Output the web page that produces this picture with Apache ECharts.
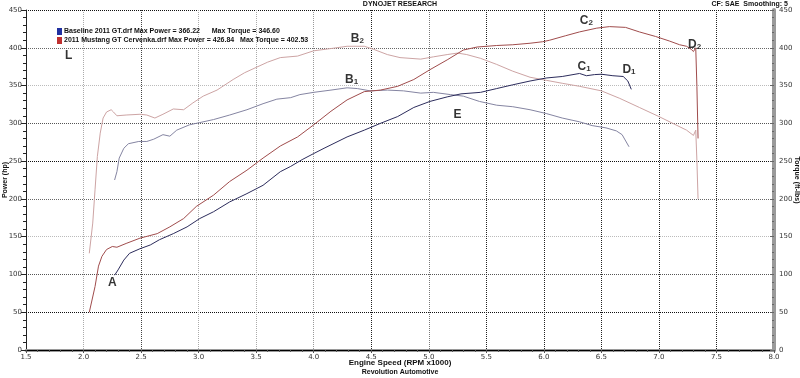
<!DOCTYPE html>
<html>
<head>
<meta charset="utf-8">
<script src="https://cdn.jsdelivr.net/npm/echarts@6/dist/echarts.min.js"></script>
<style>
  html, body { margin: 0; padding: 0; background: #fff; }
  #main { width: 800px; height: 378px; }
</style>
</head>
<body>
<div id="main"></div>
<script>
// [rpm x1000, value]
var modPower = [[2.05,50],[2.10,84],[2.13,111],[2.16,124],[2.20,133],[2.25,137],[2.29,136],[2.37,141],[2.49,148],[2.64,154],[2.75,163],[2.87,174],[2.98,190],[3.13,205],[3.27,223],[3.42,238],[3.56,254],[3.71,270],[3.86,282],[4.0,298],[4.15,316],[4.29,331],[4.44,342],[4.58,344],[4.73,349],[4.87,358],[5.01,371],[5.16,384],[5.30,397],[5.42,401],[5.59,403],[5.73,404],[5.88,406],[5.99,408],[6.05,410],[6.19,416],[6.31,421],[6.46,426],[6.57,428],[6.71,427],[6.83,421],[6.97,415],[7.09,409],[7.18,404],[7.24,402],[7.28,398],[7.30,395],[7.32,400],[7.33,349],[7.34,280]]
var modTorque = [[2.05,128],[2.08,168],[2.10,212],[2.12,256],[2.145,287],[2.17,307],[2.20,315],[2.24,318],[2.26,315],[2.29,310],[2.37,311],[2.49,312],[2.55,311],[2.62,307],[2.69,312],[2.78,319],[2.87,318],[2.95,327],[3.04,336],[3.16,344],[3.3,358],[3.4,367],[3.5,374],[3.6,381],[3.71,387],[3.86,389],[4.0,396],[4.15,399],[4.29,402],[4.44,402],[4.52,398],[4.64,391],[4.75,387],[4.93,385],[5.04,388],[5.16,391],[5.25,393],[5.33,391],[5.45,386],[5.59,378],[5.73,369],[5.88,361],[6.02,357],[6.16,353],[6.31,349],[6.50,343],[6.66,333],[6.83,321],[7.0,309],[7.12,300],[7.24,291],[7.30,284],[7.32,291],[7.33,251],[7.34,200]]
var basePower = [[2.27,99],[2.30,106],[2.35,119],[2.40,128],[2.49,134],[2.58,139],[2.66,146],[2.78,154],[2.90,163],[3.01,174],[3.13,183],[3.27,196],[3.42,207],[3.56,218],[3.71,236],[3.8,243],[3.9,252],[4.0,260],[4.09,267],[4.29,282],[4.44,291],[4.58,300],[4.73,309],[4.87,321],[5.01,329],[5.16,335],[5.28,339],[5.45,341],[5.59,346],[5.73,351],[5.88,356],[6.02,360],[6.16,362],[6.31,366],[6.37,363],[6.44,364.5],[6.50,365],[6.60,363],[6.69,362],[6.73,356],[6.76,345]]
var baseTorque = [[2.27,225],[2.29,236],[2.31,254],[2.35,267],[2.39,273],[2.48,276],[2.55,276],[2.61,279],[2.69,285],[2.75,283],[2.81,291],[2.92,298],[3.01,301],[3.13,305],[3.27,311],[3.42,318],[3.56,326],[3.68,332],[3.80,334],[3.88,338],[4.0,341],[4.15,344],[4.29,347],[4.38,346],[4.49,343],[4.64,344],[4.78,343],[4.93,340],[5.04,341],[5.19,338],[5.30,336],[5.44,329],[5.59,324],[5.73,322],[5.88,318],[6.02,313],[6.16,307],[6.31,302],[6.42,297],[6.54,294],[6.63,290],[6.68,285],[6.74,269]]

// annotation letters: [rpm, value, letter, subscript]
var marks = [[2.25,89,'A',''],[1.87,390,'L',''],[4.38,412,'B','2'],[4.33,358,'B','1'],[5.25,312,'E',''],[6.37,436,'C','2'],[6.35,375,'C','1'],[6.74,371,'D','1'],[7.31,404,'D','2']]

var baseName = 'Baseline 2011 GT.drf Max Power = 366.22      Max Torque = 346.60'
var modName = '2011 Mustang GT Cervenka.drf Max Power = 426.84   Max Torque = 402.53'

// grid line colours per x tick (1.5 .. 8.0)
var xSplitColors = ['#999','#aaa','#444','#aaa','#aaa','#999','#222','#777','#222','#222','#222','#222','#222','#222']

var chart = echarts.init(document.getElementById('main'))
var txt = { fontFamily: 'Liberation Sans', fontWeight: 'bold', color: '#111' }

chart.setOption({
  animation: false,
  backgroundColor: '#fff',
  title: [
    { text: 'DYNOJET RESEARCH', left: 'center', top: 1, padding: 0, textStyle: Object.assign({ fontSize: 7 }, txt) },
    { text: 'CF: SAE  Smoothing: 5', right: 12, top: 1, padding: 0, textStyle: Object.assign({ fontSize: 7 }, txt) },
    { text: 'Revolution Automotive', left: 'center', top: 369, padding: 0, textStyle: Object.assign({ fontSize: 7 }, txt) }
  ],
  legend: {
    orient: 'vertical',
    left: 57,
    top: 28,
    padding: 0,
    itemGap: 2,
    itemWidth: 5,
    itemHeight: 7,
    icon: 'rect',
    textStyle: Object.assign({ fontSize: 7, padding: [0, 0, 0, -3] }, txt),
    data: [
      { name: baseName, itemStyle: { color: '#2030a0' } },
      { name: modName, itemStyle: { color: '#c03030' } }
    ]
  },
  grid: { left: 26, right: 26, top: 10, bottom: 28, containLabel: false, outerBoundsMode: 'none' },
  xAxis: [
    {
      type: 'value',
      min: 1.5,
      max: 8.0,
      interval: 0.5,
      name: 'Engine Speed (RPM x1000)',
      nameLocation: 'middle',
      nameGap: 9,
      nameMoveOverlap: false,
      nameTextStyle: Object.assign({ fontSize: 8 }, txt),
      axisLine: { onZero: false, lineStyle: { color: '#9a9a9a', width: 3 } },
      axisTick: { show: true, length: 3, lineStyle: { color: '#555' } },
      minorTick: { show: true, splitNumber: 5, length: 2, lineStyle: { color: '#555' } },
      axisLabel: { margin: 4, fontSize: 7, fontFamily: 'DejaVu Sans', color: '#333', formatter: function (v) { return v.toFixed(1) } },
      splitLine: { show: true, lineStyle: { type: 'dotted', color: xSplitColors, width: 1 } }
    },
    {
      type: 'value',
      position: 'top',
      min: 1.5,
      max: 8.0,
      axisLine: { show: true, lineStyle: { color: '#000', width: 1 } },
      axisTick: { show: false },
      axisLabel: { show: false },
      splitLine: { show: false }
    }
  ],
  yAxis: [
    {
      type: 'value',
      min: 0,
      max: 450,
      interval: 50,
      name: 'Power (hp)',
      nameLocation: 'middle',
      nameGap: 17,
      nameMoveOverlap: false,
      nameTextStyle: Object.assign({ fontSize: 7 }, txt),
      axisLine: { show: true, lineStyle: { color: '#222', width: 1 } },
      axisTick: { show: true, length: 5, lineStyle: { color: '#222' } },
      minorTick: { show: true, splitNumber: 5, length: 3, lineStyle: { color: '#222' } },
      axisLabel: { margin: 4, fontSize: 7, fontFamily: 'DejaVu Sans', color: '#333' },
      splitLine: { show: true, lineStyle: { type: 'dotted', color: ['#666', '#111', '#555', '#bbb'], width: 1 } }
    },
    {
      type: 'value',
      min: 0,
      max: 450,
      interval: 50,
      position: 'right',
      name: 'Torque (ft-lbs)',
      nameLocation: 'middle',
      nameRotate: -90,
      nameGap: 19,
      nameMoveOverlap: false,
      nameTextStyle: Object.assign({ fontSize: 7 }, txt),
      axisLine: { show: true, lineStyle: { color: '#9a9a9a', width: 4 } },
      axisTick: { show: true, inside: true, length: 4, lineStyle: { color: '#666' } },
      minorTick: { show: true, splitNumber: 5, length: 2, lineStyle: { color: '#666' } },
      axisLabel: { margin: 5, fontSize: 7, fontFamily: 'DejaVu Sans', color: '#333' },
      splitLine: { show: false }
    }
  ],
  series: [
    {
      name: baseName, type: 'line', data: basePower, showSymbol: false, symbol: 'none',
      lineStyle: { color: '#2c2c5c', width: 1 }, itemStyle: { color: '#2030a0' }, z: 4
    },
    {
      name: 'Baseline torque', type: 'line', yAxisIndex: 1, data: baseTorque, showSymbol: false, symbol: 'none',
      lineStyle: { color: '#8585a2', width: 1 }, z: 3
    },
    {
      name: modName, type: 'line', data: modPower, showSymbol: false, symbol: 'none',
      lineStyle: { color: '#a04c4c', width: 1 }, itemStyle: { color: '#c03030' }, z: 4
    },
    {
      name: 'Cervenka torque', type: 'line', yAxisIndex: 1, data: modTorque, showSymbol: false, symbol: 'none',
      lineStyle: { color: '#cda4a4', width: 1 }, z: 3
    },
    {
      name: 'marks', type: 'scatter', symbolSize: 0, z: 6,
      data: marks.map(function (m) { return { value: [m[0], m[1]], letter: m[2], sub: m[3] } }),
      label: {
        show: true,
        position: 'inside',
        formatter: function (p) {
          return '{l|' + p.data.letter + '}' + (p.data.sub ? '{s|' + p.data.sub + '}' : '')
        },
        rich: {
          l: { fontFamily: 'Liberation Sans', fontWeight: 'bold', fontSize: 12, color: '#000' },
          s: { fontFamily: 'Liberation Sans', fontWeight: 'bold', fontSize: 8, color: '#000', padding: [5, 0, 0, 0] }
        }
      }
    }
  ]
})
</script>
</body>
</html>
